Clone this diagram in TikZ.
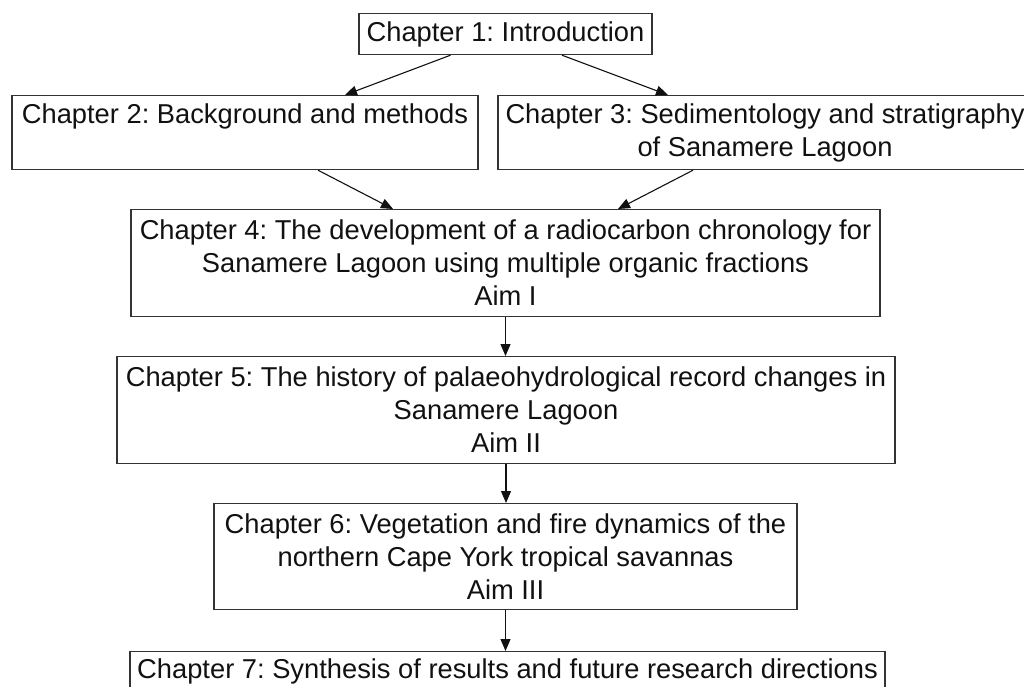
\documentclass[tikz,border=0pt]{standalone}
\usepackage{fontspec}
\setmainfont{Liberation Sans}
\frenchspacing
\usetikzlibrary{arrows.meta,calc}
\definecolor{chline}{HTML}{333333}
\definecolor{chink}{HTML}{111111}
\tikzset{
  chapter/.style = {rectangle, draw=chline, line width=1.2pt, align=center, anchor=north,
                    font=\fontsize{27.3pt}{33pt}\selectfont, text=chink,
                    inner xsep=4pt, inner ysep=7.5pt},
  flow/.style    = {-{Triangle[length=12pt,width=10pt]}, line width=1.1pt, draw=chink},
}
\begin{document}
\begin{tikzpicture}[x=1pt,y=-1pt]
\useasboundingbox (0,0) rectangle (1024,687);
\node[chapter, minimum width=293pt, minimum height=41pt] (ch1) at (505.5,13) {Chapter 1: Introduction};
\node[chapter, minimum width=466pt, minimum height=74pt] (ch2) at (245,95) {Chapter 2: Background and methods\\\vphantom{g}};
\node[chapter, minimum width=534pt, minimum height=74pt] (ch3) at (765,95) {Chapter 3: Sedimentology and stratigraphy\\of Sanamere Lagoon};
\node[chapter, minimum width=749pt, minimum height=107pt] (ch4) at (505.5,209) {Chapter 4: The development of a radiocarbon chronology for\\Sanamere Lagoon using multiple organic fractions\\Aim I};
\node[chapter, minimum width=778pt, minimum height=107pt] (ch5) at (506,356) {Chapter 5: The history of palaeohydrological record changes in\\Sanamere Lagoon\\Aim II};
\node[chapter, minimum width=583pt, minimum height=106pt] (ch6) at (505.5,503) {Chapter 6: Vegetation and fire dynamics of the\\northern Cape York tropical savannas\\Aim III};
\node[chapter, minimum width=755pt, text depth=20pt] (ch7) at (507.5,651) {Chapter 7: Synthesis of results and future research directions};

\draw[flow] ($(ch1.south)+(-55,0)$) -- ($(ch2.north)+(100,0)$);
\draw[flow] ($(ch1.south)+(56.5,0)$) -- ($(ch3.north)+(-97,0)$);
\draw[flow] ($(ch2.south)+(73,0)$) -- ($(ch4.north)+(-112.5,0)$);
\draw[flow] ($(ch3.south)+(-72,0)$) -- ($(ch4.north)+(112.5,0)$);
\draw[flow] (ch4.south) -- (ch4.south |- ch5.north);
\draw[flow] (ch5.south) -- (ch5.south |- ch6.north);
\draw[flow] (ch6.south) -- (ch6.south |- ch7.north);
\end{tikzpicture}
\end{document}
